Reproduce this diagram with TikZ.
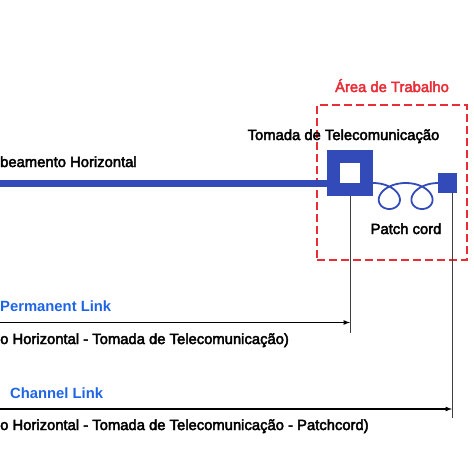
\documentclass[tikz,border=0pt]{standalone}
\usepackage{fontspec}
\setmainfont{Liberation Sans}
\newfontfamily\mediumfont[FakeBold=3]{Liberation Sans}
\usetikzlibrary{arrows,positioning}
\definecolor{cableblue}{RGB}{50,75,185}
\definecolor{linkblue}{RGB}{30,100,230}
\definecolor{areared}{RGB}{232,45,55}
\tikzset
{
    tagtext/.style  = {font=\mediumfont\fontsize{14.8}{17}\selectfont, inner sep=0pt, text=black},
    linktext/.style = {font=\bfseries\fontsize{14.8}{17}\selectfont, inner sep=0pt, text=linkblue},
    areatext/.style = {font=\mediumfont\fontsize{14.8}{17}\selectfont, inner sep=0pt, text=areared},
    outlet/.style   = {rectangle, draw=cableblue, line width=13pt, fill=white, minimum size=33pt, inner sep=0pt},
    plug/.style     = {rectangle, fill=cableblue, minimum size=19.5pt, inner sep=0pt},
    workarea/.style = {rectangle, draw=areared, line width=1.4pt, dash pattern=on 8pt off 4pt, minimum width=150pt, minimum height=155pt, inner sep=0pt},
    cable/.style    = {draw=cableblue, line width=7pt},
    cord/.style     = {draw=cableblue, line width=1.8pt},
    measure/.style  = {draw=black!75, line width=0.9pt},
    span/.style     = {draw=black, line width=1.2pt, -latex}
}
\begin{document}
\begin{tikzpicture}[x=1pt, y=-1pt]
	\useasboundingbox (0,0) rectangle (474,474);
	% area de trabalho
	\node[workarea] (area) at (392,182.5) {};
	\node[areatext, anchor=base] (areatitle) at (392,92) {Área de Trabalho};
	% tomada e patch cord
	\node[outlet] (tomada) at (350,173) {};
	\node[plug] (patch) at (447.5,183) {};
	\coordinate (cablestart) at (0,183);
	\draw[cable] (cablestart) -- (cablestart -| tomada.west);
	\begin{scope}[shift={(tomada.east |- cablestart)}]
		\draw[cord] plot[domain=-180:540, samples=120, smooth]
			({5.2*(\x+180)*pi/180 - 18*sin(\x)}, {13 + 13*cos(\x)});
	\end{scope}
	\node[tagtext, anchor=base west] (horiz) at (0,167) {beamento Horizontal};
	\node[tagtext, anchor=base] (tomadatext) at (343.5,140) {Tomada de Telecomunicação};
	\node[tagtext, anchor=base] (patchtext) at (406,234) {Patch cord};
	% permanent link
	\coordinate (tomadafoot) at (350,333);
	\coordinate (permstart) at (0,322.5);
	\draw[measure] (tomada.south) -- (tomadafoot);
	\draw[span] (permstart) -- (permstart -| tomadafoot);
	\node[linktext, anchor=base west] (permtext) at (0,311) {Permanent Link};
	\node[tagtext, anchor=base west] (permdesc) at (0,344) {o Horizontal - Tomada de Telecomunicação)};
	% channel link
	\coordinate (patchfoot) at (452,418);
	\coordinate (chanstart) at (0,409);
	\draw[measure] (patch.south -| patchfoot) -- (patchfoot);
	\draw[span] (chanstart) -- (chanstart -| patchfoot);
	\node[linktext, anchor=base west] (chantext) at (10,398) {Channel Link};
	\node[tagtext, anchor=base west] (chandesc) at (0,430) {o Horizontal - Tomada de Telecomunicação - Patchcord)};
\end{tikzpicture}
\end{document}
